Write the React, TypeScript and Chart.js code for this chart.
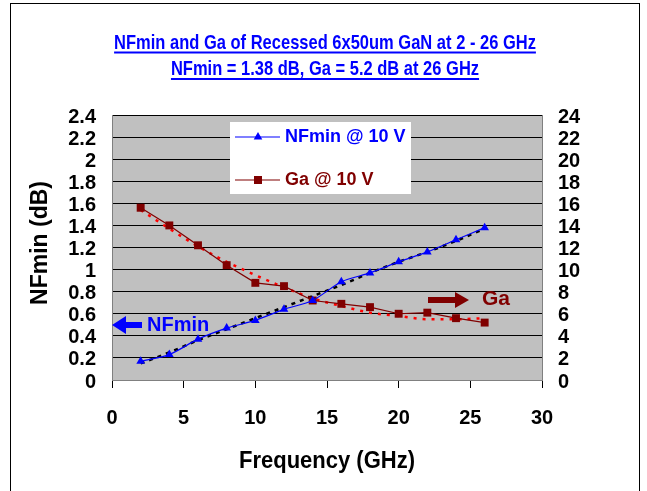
import React, { useEffect, useRef } from "react";
import { Chart, registerables } from "chart.js";

Chart.register(...registerables);

const frequencies = [2, 4, 6, 8, 10, 12, 14, 16, 18, 20, 22, 24, 26];
const nfminValues = [0.17, 0.23, 0.37, 0.47, 0.54, 0.64, 0.72, 0.89, 0.97, 1.07, 1.16, 1.27, 1.38];
const gaValues = [15.6, 14.0, 12.2, 10.4, 8.8, 8.5, 7.2, 6.9, 6.6, 6.0, 6.1, 5.6, 5.2];
const nfminTrend = [0.15, 0.25, 0.36, 0.46, 0.56, 0.66, 0.76, 0.86, 0.97, 1.07, 1.16, 1.26, 1.37];
const gaTrend = [15.4, 13.7, 12.1, 10.7, 9.5, 8.4, 7.4, 6.7, 6.1, 5.8, 5.5, 5.5, 5.6];
const xTickLabels = ["0", "5", "10", "15", "20", "25", "30"];
const leftTickLabels = ["0", "0.2", "0.4", "0.6", "0.8", "1", "1.2", "1.4", "1.6", "1.8", "2", "2.2", "2.4"];
const rightTickLabels = ["0", "2", "4", "6", "8", "10", "12", "14", "16", "18", "20", "22", "24"];
const titleLines = ["NFmin and Ga of Recessed 6x50um GaN at 2 - 26 GHz", "NFmin = 1.38 dB, Ga = 5.2 dB at 26 GHz"];
const legendLabels = ["NFmin @ 10 V", "Ga @ 10 V"];

const FONT = '"Liberation Sans", Arial, sans-serif';
const BLUE = "#0000FF";
const DARKRED = "#800000";

const pts = (ys: number[]) => frequencies.map((x, i) => ({ x, y: ys[i] }));

const decorPlugin = {
  id: "decor",
  beforeDatasetsDraw(chart: any) {
    const ctx = chart.ctx;
    ctx.save();
    // legend box
    ctx.fillStyle = "#FFFFFF";
    ctx.fillRect(230, 122, 181, 72);
    // NFmin entry
    ctx.strokeStyle = BLUE;
    ctx.lineWidth = 1.2;
    ctx.beginPath();
    ctx.moveTo(235, 137);
    ctx.lineTo(280, 137);
    ctx.stroke();
    ctx.fillStyle = BLUE;
    ctx.beginPath();
    ctx.moveTo(258, 132);
    ctx.lineTo(262.3, 139.5);
    ctx.lineTo(253.7, 139.5);
    ctx.closePath();
    ctx.fill();
    ctx.font = `bold 18px ${FONT}`;
    ctx.textBaseline = "middle";
    ctx.textAlign = "left";
    ctx.fillText(legendLabels[0], 285, 137);
    // Ga entry
    ctx.strokeStyle = DARKRED;
    ctx.beginPath();
    ctx.moveTo(235, 180);
    ctx.lineTo(280, 180);
    ctx.stroke();
    ctx.fillStyle = DARKRED;
    ctx.fillRect(254, 176, 8, 8);
    ctx.fillText(legendLabels[1], 285, 180);
    ctx.restore();
  },
  afterDraw(chart: any) {
    const ctx = chart.ctx;
    ctx.save();
    // outer frame
    ctx.strokeStyle = "#000000";
    ctx.lineWidth = 1;
    ctx.strokeRect(10.5, 3.5, 629, 520);
    // titles (slightly tall glyphs, as in the reference)
    ctx.fillStyle = BLUE;
    ctx.font = `bold 16.5px ${FONT}`;
    ctx.textAlign = "center";
    ctx.textBaseline = "alphabetic";
    const baselines = [48.5, 75];
    titleLines.forEach((t, i) => {
      const w = ctx.measureText(t).width;
      ctx.save();
      ctx.translate(325, baselines[i]);
      ctx.scale(1.0, 1.18);
      ctx.fillText(t, 0, 0);
      ctx.restore();
      ctx.fillRect(325 - w / 2, baselines[i] + 3, w, 2);
    });
    // axis titles
    ctx.fillStyle = "#000000";
    ctx.font = `bold 22px ${FONT}`;
    ctx.save();
    ctx.translate(327, 468);
    ctx.scale(1, 1.1);
    ctx.fillText("Frequency (GHz)", 0, 0);
    ctx.restore();
    ctx.save();
    ctx.translate(41, 243);
    ctx.rotate(-Math.PI / 2);
    ctx.font = `bold 23px ${FONT}`;
    ctx.textBaseline = "middle";
    ctx.fillText("NFmin (dB)", 0, 0);
    ctx.restore();
    // NFmin arrow
    ctx.fillStyle = BLUE;
    ctx.fillRect(125, 322, 17, 6);
    ctx.beginPath();
    ctx.moveTo(112, 325);
    ctx.lineTo(126, 316);
    ctx.lineTo(126, 334);
    ctx.closePath();
    ctx.fill();
    ctx.font = `bold 20px ${FONT}`;
    ctx.textAlign = "left";
    ctx.textBaseline = "middle";
    ctx.fillText("NFmin", 147, 325);
    // Ga arrow
    ctx.fillStyle = DARKRED;
    ctx.fillRect(428, 297, 28, 6);
    ctx.beginPath();
    ctx.moveTo(469, 300);
    ctx.lineTo(455, 292);
    ctx.lineTo(455, 308);
    ctx.closePath();
    ctx.fill();
    ctx.font = `bold 21px ${FONT}`;
    ctx.fillText("Ga", 482, 299);
    ctx.restore();
  },
};

const bgPlugin = {
  id: "plotbg",
  beforeDraw(chart: any) {
    const { ctx, chartArea } = chart;
    ctx.save();
    ctx.fillStyle = "#FFFFFF";
    ctx.fillRect(0, 0, chart.width, chart.height);
    ctx.fillStyle = "#C0C0C0";
    ctx.fillRect(chartArea.left, chartArea.top, chartArea.right - chartArea.left, chartArea.bottom - chartArea.top);
    ctx.restore();
  },
};

export default function App() {
  const ref = useRef<HTMLCanvasElement | null>(null);
  useEffect(() => {
    if (!ref.current) return;
    const chart = new Chart(ref.current, {
      type: "line",
      data: {
        datasets: [
          {
            label: legendLabels[0],
            data: pts(nfminValues),
            yAxisID: "y",
            borderColor: BLUE,
            backgroundColor: BLUE,
            borderWidth: 1.2,
            pointStyle: "triangle",
            pointRadius: 5,
            pointBorderWidth: 0,
            tension: 0.25,
          },
          {
            label: legendLabels[1],
            data: pts(gaValues),
            yAxisID: "y1",
            borderColor: DARKRED,
            backgroundColor: DARKRED,
            borderWidth: 1.2,
            pointStyle: "rect",
            pointRadius: 5.6,
            pointBorderWidth: 0,
            tension: 0,
          },
          {
            label: "NFmin trend",
            data: pts(nfminTrend),
            yAxisID: "y",
            borderColor: "#000000",
            borderWidth: 2.5,
            borderDash: [4, 5],
            pointRadius: 0,
            cubicInterpolationMode: "monotone",
          },
          {
            label: "Ga trend",
            data: pts(gaTrend),
            yAxisID: "y1",
            borderColor: "#FF0000",
            borderWidth: 2.5,
            borderDash: [3, 6],
            pointRadius: 0,
            cubicInterpolationMode: "monotone",
          },
        ],
      },
      options: {
        responsive: false,
        animation: false,
        layout: { padding: { top: 115, left: 0, right: 0, bottom: 0 } },
        plugins: { legend: { display: false }, tooltip: { enabled: false }, title: { display: false } },
        scales: {
          x: {
            type: "linear",
            min: 0,
            max: 30,
            afterFit: (s: any) => { s.height = 111; },
            ticks: {
              stepSize: 5,
              autoSkip: false,
              padding: 18,
              color: "#000000",
              font: { family: FONT, size: 20, weight: "bold" },
              callback: (_v: any, i: number) => xTickLabels[i],
            },
            grid: { drawOnChartArea: false, drawTicks: true, tickLength: 8, color: "#000000" },
            border: { display: true, color: "#808080", width: 1 },
          },
          y: {
            type: "linear",
            position: "left",
            min: 0,
            max: 2.4,
            afterFit: (s: any) => { s.width = 112; },
            ticks: {
              stepSize: 0.2,
              autoSkip: false,
              padding: 16,
              labelOffset: 2,
              color: "#000000",
              font: { family: FONT, size: 20, weight: "bold", lineHeight: 1 },
              callback: (_v: any, i: number) => leftTickLabels[i],
            },
            grid: { drawTicks: false, color: "#000000", lineWidth: 1 },
            border: { display: true, color: "#808080", width: 1 },
          },
          y1: {
            type: "linear",
            position: "right",
            min: 0,
            max: 24,
            afterFit: (s: any) => { s.width = 105; },
            ticks: {
              stepSize: 2,
              autoSkip: false,
              padding: 16,
              labelOffset: 2,
              color: "#000000",
              font: { family: FONT, size: 20, weight: "bold", lineHeight: 1 },
              callback: (_v: any, i: number) => rightTickLabels[i],
            },
            grid: { drawOnChartArea: false, drawTicks: false },
            border: { display: true, color: "#808080", width: 1 },
          },
        },
      },
      plugins: [bgPlugin, decorPlugin],
    } as any);
    return () => chart.destroy();
  }, []);
  return (
    <div style={{ position: "fixed", left: 0, top: 0, width: 647, height: 491, background: "#fff" }}>
      <canvas ref={ref} width={647} height={491} style={{ display: "block", width: 647, height: 491 }} />
    </div>
  );
}
